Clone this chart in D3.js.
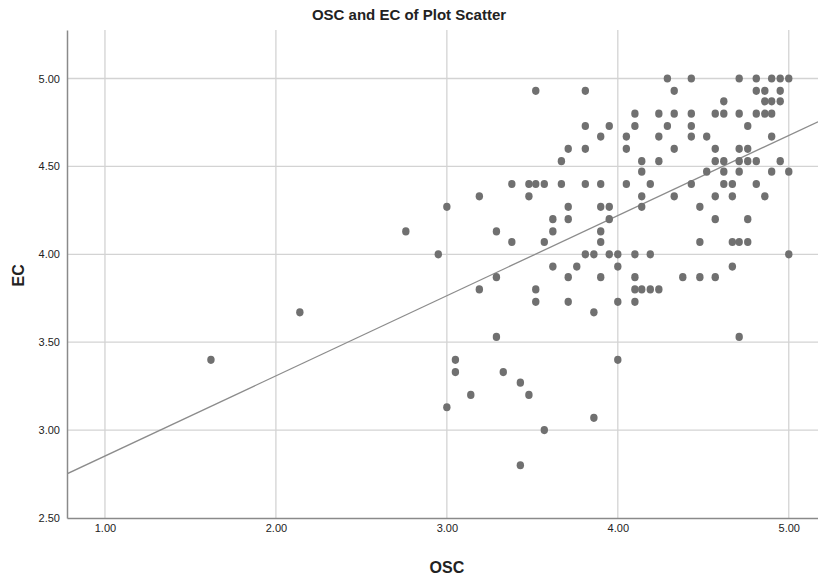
<!DOCTYPE html>
<html>
<head>
<meta charset="utf-8">
<script src="https://cdn.jsdelivr.net/npm/d3@7"></script>
<style>
  body { margin: 0; background: #fff; }
  text { font-family: "Liberation Sans Narrow", "Arial Narrow", "Liberation Sans", Arial, sans-serif; }
</style>
</head>
<body>
<div id="chart"></div>
<script>
// OSC values (x) and EC values (y), one pair per respondent
const osc = [
  4.29, 4.43, 4.71, 4.81, 4.90, 4.95, 5.00,
  3.52, 3.81, 4.33, 4.81, 4.86, 4.95,
  4.62, 4.86, 4.90, 4.95,
  4.10, 4.24, 4.33, 4.43, 4.57, 4.62, 4.71, 4.81, 4.86, 4.90,
  3.81, 3.95, 4.10, 4.29, 4.43, 4.76,
  3.90, 4.05, 4.24, 4.43, 4.52, 4.90,
  3.71, 3.81, 4.05, 4.33, 4.57, 4.71, 4.76,
  3.67, 4.14, 4.24, 4.57, 4.62, 4.71, 4.76, 4.81, 4.95,
  4.14, 4.52, 4.62, 4.71, 4.90, 5.00,
  3.38, 3.48, 3.52, 3.57, 3.67, 3.81, 3.90, 4.05, 4.19, 4.43, 4.62, 4.67, 4.81,
  3.19, 3.48, 4.14, 4.33, 4.57, 4.67, 4.86,
  3.00, 3.71, 3.90, 3.95, 4.14, 4.48,
  3.62, 3.71, 3.95, 4.57, 4.76,
  2.76, 3.29, 3.62, 3.90,
  3.38, 3.57, 3.90, 4.48, 4.67, 4.71, 4.76,
  2.95, 3.81, 3.86, 3.95, 4.00, 4.10, 4.19, 5.00,
  3.62, 3.76, 4.00, 4.67,
  3.29, 3.71, 3.90, 4.10, 4.38, 4.48, 4.57,
  3.19, 3.52, 4.10, 4.14, 4.19, 4.24,
  3.52, 3.71, 4.00, 4.10,
  2.14, 3.86,
  3.29, 4.71,
  1.62, 3.05, 4.00,
  3.05, 3.33,
  3.43,
  3.14, 3.48,
  3.00,
  3.86,
  3.57,
  3.43
];
const ec = [
  5.00, 5.00, 5.00, 5.00, 5.00, 5.00, 5.00,
  4.93, 4.93, 4.93, 4.93, 4.93, 4.93,
  4.87, 4.87, 4.87, 4.87,
  4.80, 4.80, 4.80, 4.80, 4.80, 4.80, 4.80, 4.80, 4.80, 4.80,
  4.73, 4.73, 4.73, 4.73, 4.73, 4.73,
  4.67, 4.67, 4.67, 4.67, 4.67, 4.67,
  4.60, 4.60, 4.60, 4.60, 4.60, 4.60, 4.60,
  4.53, 4.53, 4.53, 4.53, 4.53, 4.53, 4.53, 4.53, 4.53,
  4.47, 4.47, 4.47, 4.47, 4.47, 4.47,
  4.40, 4.40, 4.40, 4.40, 4.40, 4.40, 4.40, 4.40, 4.40, 4.40, 4.40, 4.40, 4.40,
  4.33, 4.33, 4.33, 4.33, 4.33, 4.33, 4.33,
  4.27, 4.27, 4.27, 4.27, 4.27, 4.27,
  4.20, 4.20, 4.20, 4.20, 4.20,
  4.13, 4.13, 4.13, 4.13,
  4.07, 4.07, 4.07, 4.07, 4.07, 4.07, 4.07,
  4.00, 4.00, 4.00, 4.00, 4.00, 4.00, 4.00, 4.00,
  3.93, 3.93, 3.93, 3.93,
  3.87, 3.87, 3.87, 3.87, 3.87, 3.87, 3.87,
  3.80, 3.80, 3.80, 3.80, 3.80, 3.80,
  3.73, 3.73, 3.73, 3.73,
  3.67, 3.67,
  3.53, 3.53,
  3.40, 3.40, 3.40,
  3.33, 3.33,
  3.27,
  3.20, 3.20,
  3.13,
  3.07,
  3.00,
  2.80
];
const xTicks = [1, 2, 3, 4, 5];
const yTicks = [2.5, 3, 3.5, 4, 4.5, 5];
const title = "OSC and EC of Plot Scatter";

const width = 818, height = 580;
const margin = { top: 30, right: 0, bottom: 62, left: 67 };

const svg = d3.select("#chart")
  .append("svg")
  .attr("width", width)
  .attr("height", height);

const x = d3.scaleLinear()
  .domain([0.778, 5.171])
  .range([margin.left, width - margin.right]);

const y = d3.scaleLinear()
  .domain([2.5, 5.276])
  .range([height - margin.bottom, margin.top]);

// grid
svg.append("g")
  .selectAll("line")
  .data(xTicks)
  .enter()
  .append("line")
  .attr("x1", d => x(d)).attr("x2", d => x(d))
  .attr("y1", margin.top).attr("y2", height - margin.bottom)
  .attr("stroke", "#d3d3d3")
  .attr("stroke-width", 1.3);

svg.append("g")
  .selectAll("line")
  .data(yTicks.filter(d => d > 2.5))
  .enter()
  .append("line")
  .attr("x1", margin.left).attr("x2", width - margin.right)
  .attr("y1", d => y(d)).attr("y2", d => y(d))
  .attr("stroke", "#d3d3d3")
  .attr("stroke-width", 1.3);

// axes
const xAxis = d3.axisBottom(x)
  .tickValues(xTicks)
  .tickFormat(d3.format(".2f"))
  .tickSize(0)
  .tickPadding(6);

const yAxis = d3.axisLeft(y)
  .tickValues(yTicks)
  .tickFormat(d3.format(".2f"))
  .tickSize(0)
  .tickPadding(7);

const gx = svg.append("g")
  .attr("transform", `translate(0,${height - margin.bottom})`)
  .call(xAxis);

const gy = svg.append("g")
  .attr("transform", `translate(${margin.left},0)`)
  .call(yAxis);

[gx, gy].forEach(g => {
  g.select(".domain").attr("stroke", "#8a8a8a").attr("stroke-width", 1.5);
  g.selectAll("text").attr("fill", "#222").style("font-size", "11px");
});

// regression line (least squares fit of the points)
const mx = d3.mean(osc), my = d3.mean(ec);
const slope = d3.sum(osc, (v, i) => (v - mx) * (ec[i] - my)) / d3.sum(osc, v => (v - mx) ** 2);
const intercept = my - slope * mx;
const [x0, x1] = x.domain();

svg.append("defs").append("clipPath").attr("id", "clip")
  .append("rect")
  .attr("x", margin.left).attr("y", margin.top)
  .attr("width", width - margin.left - margin.right)
  .attr("height", height - margin.top - margin.bottom);

svg.append("line")
  .attr("clip-path", "url(#clip)")
  .attr("x1", x(x0)).attr("y1", y(intercept + slope * x0))
  .attr("x2", x(x1)).attr("y2", y(intercept + slope * x1))
  .attr("stroke", "#8c8c8c")
  .attr("stroke-width", 1.3);

// points
svg.append("g")
  .selectAll("ellipse")
  .data(osc.map((v, i) => [v, ec[i]]))
  .enter()
  .append("ellipse")
  .attr("cx", d => x(d[0]))
  .attr("cy", d => y(d[1]))
  .attr("rx", 3.7)
  .attr("ry", 4.1)
  .attr("fill", "#707070");

// titles
svg.append("text")
  .attr("x", 409).attr("y", 20)
  .attr("text-anchor", "middle")
  .style("font-size", "15px")
  .style("font-weight", "bold")
  .attr("fill", "#222")
  .text(title);

svg.append("text")
  .attr("x", x(3.0)).attr("y", 573)
  .attr("text-anchor", "middle")
  .style("font-size", "16px")
  .style("font-weight", "bold")
  .attr("fill", "#222")
  .text("OSC");

svg.append("text")
  .attr("transform", `translate(24,${y(3.88)}) rotate(-90)`)
  .attr("text-anchor", "middle")
  .style("font-size", "16px")
  .style("font-weight", "bold")
  .attr("fill", "#222")
  .text("EC");
</script>
</body>
</html>
